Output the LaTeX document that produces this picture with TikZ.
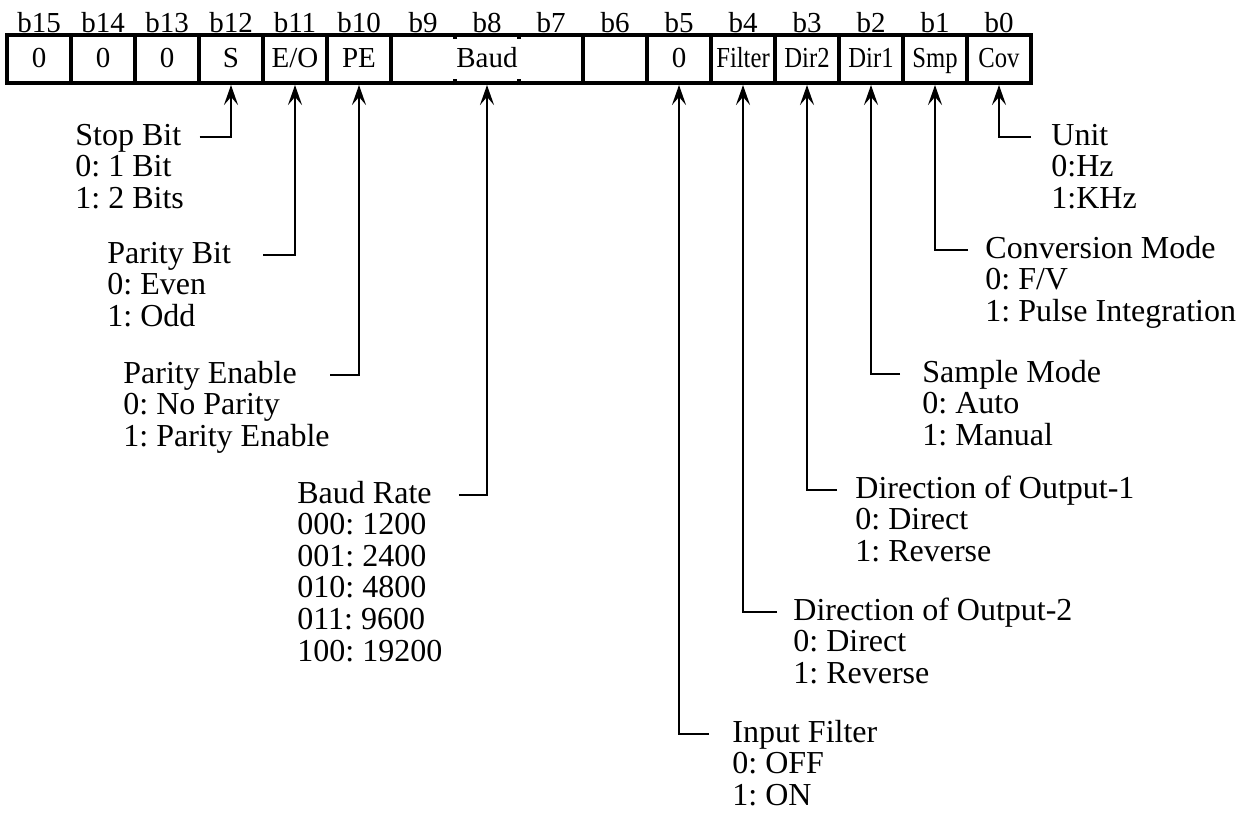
\documentclass[tikz,border=0pt]{standalone}
\usepackage{fontspec}
\setmainfont{Liberation Serif}
\usepackage{graphicx}
\usetikzlibrary{arrows.meta,calc}
\frenchspacing
\newcommand{\nar}[1]{\scalebox{0.85}[1]{#1}}% condensed cell text
\tikzstyle{cell} =[
    draw,
    line width=2pt,
    rectangle,
    minimum width=32pt,
    minimum height=24pt,
    inner sep=0pt,
    text height=11pt,
    text depth=3pt,
    font=\fontsize{14.5}{16}\selectfont
    ]
\tikzstyle{bitlbl} =[
    anchor=base,
    inner sep=0pt,
    font=\fontsize{14.5}{16}\selectfont
    ]
\tikzstyle{fieldname} =[
    anchor=base west,
    inner sep=0pt,
    text height=11pt,
    text depth=3pt,
    font=\fontsize{16}{15.8}\selectfont
    ]
\tikzstyle{fieldvals} =[
    anchor=base west,
    inner sep=0pt,
    align=left,
    font=\fontsize{16}{15.8}\selectfont
    ]
\tikzstyle{ptr} =[
    line width=1.2pt,
    -{Stealth[length=10pt,width=7pt,inset=4pt]}
    ]

\begin{document}
\begin{tikzpicture}[x=0.5pt,y=-0.5pt]
\useasboundingbox (0,0) rectangle (1248,814);

% register
\foreach \n/\t in {15/0,14/0,13/0,12/S,11/{E/O},10/PE,6/,5/0,4/\nar{Filter},3/\nar{Dir2},2/\nar{Dir1},1/\nar{Smp},0/\nar{Cov}}
    \node[cell] (c\n) at ({999-64*\n},59) {\t};
\node[cell, minimum width=96pt] (c8) at (487,59) {Baud};
\draw[line width=2pt]
    ([xshift=-16pt]c8.north) -- ++(0,6) ([xshift=16pt]c8.north) -- ++(0,6)
    ([xshift=-16pt]c8.south) -- ++(0,-6) ([xshift=16pt]c8.south) -- ++(0,-6);
\foreach \n in {0,...,15}
    \node[bitlbl] at ({999-64*\n},32) {b\n};

% left side fields (values node sits on its last line)
\node[fieldname] (stop) at (75,145) {Stop Bit};
\node[fieldvals] (stopval) at ([yshift=-31.6pt]stop.base west) {0: 1 Bit\\1: 2 Bits};
\node[fieldname] (parity) at (107,263) {Parity Bit};
\node[fieldvals] (parityval) at ([yshift=-31.6pt]parity.base west) {0: Even\\1: Odd};
\node[fieldname] (paren) at (123,383) {Parity Enable};
\node[fieldvals] (parenval) at ([yshift=-31.6pt]paren.base west) {0: No Parity\\1: Parity Enable};
\node[fieldname] (baud) at (297,503) {Baud Rate};
\node[fieldvals] (baudval) at ([yshift=-79pt]baud.base west) {000: 1200\\001: 2400\\010: 4800\\011: 9600\\100: 19200};

% right side fields
\node[fieldname] (unit) at (1051,145) {Unit};
\node[fieldvals] (unitval) at ([yshift=-31.6pt]unit.base west) {0:Hz\\1:KHz};
\node[fieldname] (conv) at (985,258) {Conversion Mode};
\node[fieldvals] (convval) at ([yshift=-31.6pt]conv.base west) {0: F/V\\1: Pulse Integration};
\node[fieldname] (smp) at (922,382) {Sample Mode};
\node[fieldvals] (smpval) at ([yshift=-31.6pt]smp.base west) {0: Auto\\1: Manual};
\node[fieldname] (dirone) at (855,498) {Direction of Output-1};
\node[fieldvals] (dironeval) at ([yshift=-31.6pt]dirone.base west) {0: Direct\\1: Reverse};
\node[fieldname] (dirtwo) at (793,620) {Direction of Output-2};
\node[fieldvals] (dirtwoval) at ([yshift=-31.6pt]dirtwo.base west) {0: Direct\\1: Reverse};
\node[fieldname] (filt) at (732,742) {Input Filter};
\node[fieldvals] (filtval) at ([yshift=-31.6pt]filt.base west) {0: OFF\\1: ON};

% pointers
\draw[ptr] ([xshift=9pt]stop.east) -| (c12.south);
\draw[ptr] ([xshift=16pt]parity.east) -| (c11.south);
\draw[ptr] ([xshift=16.5pt]paren.east) -| (c10.south);
\draw[ptr] ([xshift=13.5pt]baud.east) -| (c8.south);
\draw[ptr] ([xshift=-11.5pt]filt.west) -| (c5.south);
\draw[ptr] ([xshift=-8pt]dirtwo.west) -| (c4.south);
\draw[ptr] ([xshift=-9pt]dirone.west) -| (c3.south);
\draw[ptr] ([xshift=-11pt]smp.west) -| (c2.south);
\draw[ptr] ([xshift=-8.5pt]conv.west) -| (c1.south);
\draw[ptr] ([xshift=-10pt]unit.west) -| (c0.south);
\end{tikzpicture}
\end{document}
